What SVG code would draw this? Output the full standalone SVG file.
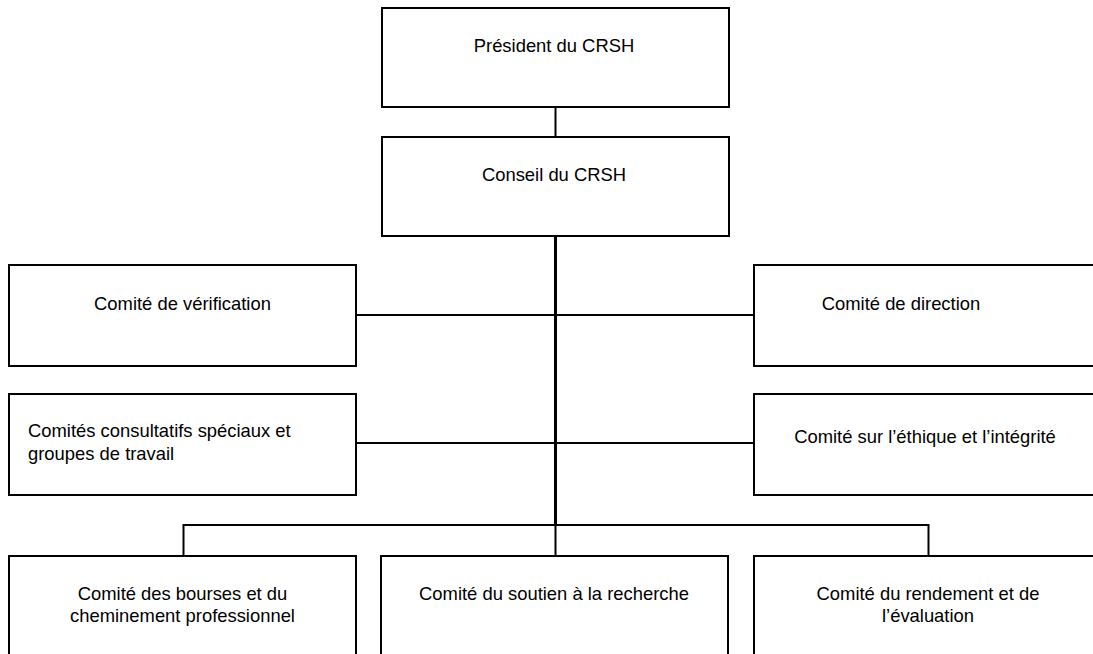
<svg xmlns="http://www.w3.org/2000/svg" width="1093" height="654" viewBox="0 0 1093 654">
<style>
.box{fill:#fff;stroke:#000;stroke-width:2}
.ln{fill:none;stroke:#000;stroke-width:2}
.thick{fill:none;stroke:#000;stroke-width:3}
text{font-family:"Liberation Sans",Arial,sans-serif;font-size:18.4px;fill:#000}
.c{text-anchor:middle}
</style>
<rect width="1093" height="654" fill="#fff"/>
<g id="connectors">
<line class="ln" x1="555.5" y1="107" x2="555.5" y2="137"/>
<line class="thick" x1="555.5" y1="236" x2="555.5" y2="525"/>
<line class="ln" x1="356" y1="315" x2="754" y2="315"/>
<line class="ln" x1="356" y1="443" x2="754" y2="443"/>
<polyline class="ln" points="183.5,556 183.5,525 928.5,525 928.5,556"/>
<line class="ln" x1="555.5" y1="525" x2="555.5" y2="556"/>
</g>
<g id="president">
<rect class="box" x="382" y="8" width="347" height="99"/>
<text class="c" x="554" y="52">Président du CRSH</text>
</g>
<g id="conseil">
<rect class="box" x="382" y="137" width="347" height="99"/>
<text class="c" x="554" y="181">Conseil du CRSH</text>
</g>
<g id="verification">
<rect class="box" x="9" y="265" width="347" height="101"/>
<text class="c" x="182.5" y="310">Comité de vérification</text>
</g>
<g id="consultatifs">
<rect class="box" x="9" y="394" width="347" height="101"/>
<text x="28" y="437">Comités consultatifs spéciaux et</text>
<text x="28" y="460">groupes de travail</text>
</g>
<g id="direction">
<rect class="box" x="754" y="265" width="348" height="101"/>
<text class="c" x="901" y="310">Comité de direction</text>
</g>
<g id="ethique">
<rect class="box" x="754" y="394" width="348" height="101"/>
<text class="c" x="925" y="443">Comité sur l’éthique et l’intégrité</text>
</g>
<g id="bourses">
<rect class="box" x="9" y="556" width="347" height="110"/>
<text class="c" x="182.5" y="600">Comité des bourses et du</text>
<text class="c" x="182.5" y="622">cheminement professionnel</text>
</g>
<g id="soutien">
<rect class="box" x="381" y="556" width="347" height="110"/>
<text class="c" x="554" y="600">Comité du soutien à la recherche</text>
</g>
<g id="rendement">
<rect class="box" x="754" y="556" width="348" height="110"/>
<text class="c" x="928" y="600">Comité du rendement et de</text>
<text class="c" x="928" y="622">l’évaluation</text>
</g>
</svg>
